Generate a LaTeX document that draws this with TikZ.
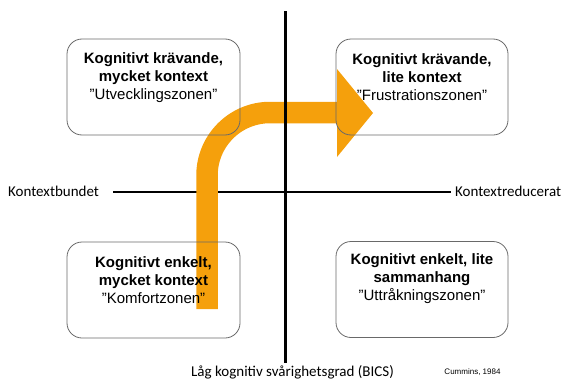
\documentclass[tikz,border=0pt]{standalone}
\usepackage{fontspec}
\setmainfont{Liberation Sans}
\newfontfamily\carlito{Carlito}
\definecolor{arroworange}{RGB}{245,160,12}
\definecolor{boxgray}{RGB}{105,105,105}
\begin{document}
\begin{tikzpicture}[x=1pt,y=-1pt,
  zonebox/.style={draw=boxgray, line width=0.8pt, rounded corners=15pt, minimum width=173pt, minimum height=96pt, inner sep=0pt},
  zonetext/.style={anchor=north, align=center, inner sep=0pt, font=\fontsize{15}{18}\selectfont},
  sidelabel/.style={inner sep=0pt, font=\carlito\fontsize{15}{18}\selectfont},
  axisline/.style={draw=black}
]
\useasboundingbox (0,0) rectangle (567,380);
% axis coordinates
\coordinate (hL) at (113,192);
\coordinate (hR) at (451,192);
\coordinate (vT) at (285,11);
\coordinate (vB) at (285,363);
% horizontal axis (below arrow)
\draw[axisline, line width=2pt] (hL) -- (hR);
% arrow
\coordinate (aStart) at (207,309);
\coordinate (aBend) at (207,112.5);
\coordinate (aEnd) at (338,112.5);
\coordinate (hTop) at (337,69);
\coordinate (hTip) at (373,113);
\coordinate (hBot) at (337,157);
\draw[arroworange, line width=21.5pt, rounded corners=63pt] (aStart) -- (aBend) -- (aEnd);
\fill[arroworange] (hTop) -- (hTip) -- (hBot) -- cycle;
% vertical axis (above arrow)
\draw[axisline, line width=3pt] (vT) -- (vB);
% boxes
\node[zonebox] (tl) at (153.5,87) {};
\node[zonebox, minimum width=172pt] (tr) at (422,87) {};
\node[zonebox] (bl) at (153.5,290) {};
\node[zonebox, minimum width=172pt] (br) at (422,289.5) {};
% texts
\node[zonetext] (tlt) at (153.5,52) {\textbf{Kognitivt krävande,}\\\textbf{mycket kontext}\\”Utvecklingszonen”};
\node[zonetext] (trt) at (422,53) {\textbf{Kognitivt krävande,}\\\textbf{lite kontext}\\”Frustrationszonen”};
\node[zonetext] (blt) at (153.5,256) {\textbf{Kognitivt enkelt,}\\\textbf{mycket kontext}\\”Komfortzonen”};
\node[zonetext] (brt) at (422,253) {\textbf{Kognitivt enkelt, lite}\\\textbf{sammanhang}\\"Uttråkningszonen"};
% labels
\node[sidelabel, anchor=west] (kb) at (8,191) {Kontextbundet};
\node[sidelabel, anchor=west] (kr) at (455,191) {Kontextreducerat};
\node[sidelabel, anchor=base] (bics) at (292.5,376) {Låg kognitiv svårighetsgrad (BICS)};
\node[inner sep=0pt, font=\fontsize{8}{10}\selectfont] (cum) at (472.5,372) {Cummins, 1984};
\end{tikzpicture}
\end{document}
